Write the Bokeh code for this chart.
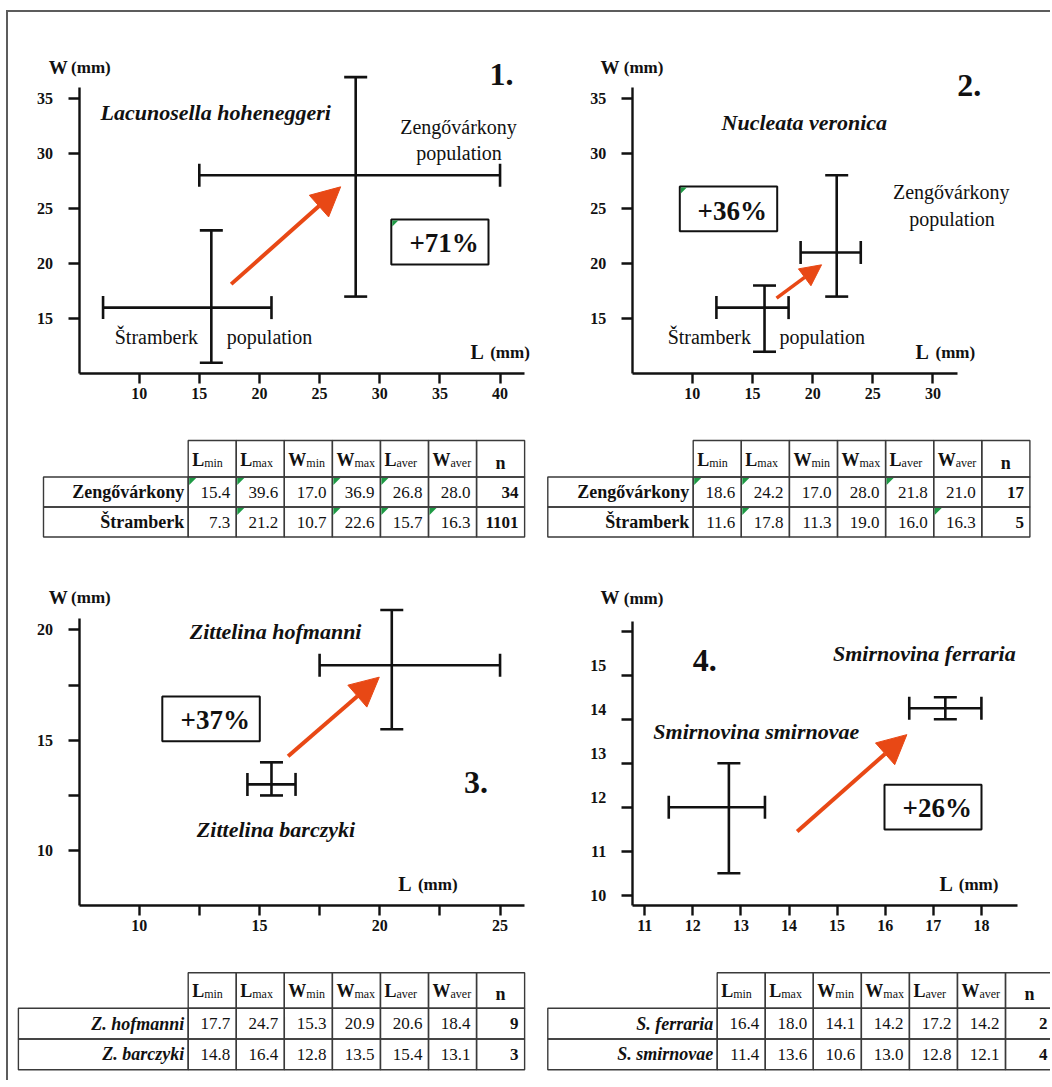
import numpy as np
from bokeh.plotting import figure
from bokeh.models import (Range1d, FixedTicker, Whisker, TeeHead, Arrow, NormalHead,
                          Label, ColumnDataSource, Spacer, LinearAxis,
                          CustomJSTickFormatter)
from bokeh.layouts import row, column
from bokeh.core.properties import value
from bokeh.embed import file_html
from bokeh.resources import INLINE

FONT = "Liberation Serif"
INK = "#111111"
ORANGE = "#E84815"
GREEN = "#1E9A45"
RULE = "#3a3a3a"
FRAME = "#5c5c5c"

# ---------------- data ----------------
panel_num = ["1.", "2.", "3.", "4."]
percent = ["+71%", "+36%", "+37%", "+26%"]
species = ["Lacunosella hoheneggeri", "Nucleata veronica",
           "Zittelina hofmanni", "Zittelina barczyki",
           "Smirnovina ferraria", "Smirnovina smirnovae"]
pop_names = ["Zengővárkony", "Štramberk"]
pop_word = "population"

# crosses as drawn: [upper group, lower group]
p1_L_c, p1_L_lo, p1_L_hi = [28.0, 16.0], [15.0, 7.0], [40.0, 21.0]
p1_W_c, p1_W_lo, p1_W_hi = [28.0, 16.0], [17.0, 11.0], [36.9, 23.0]

p2_L_c, p2_L_lo, p2_L_hi = [22.0, 16.0], [19.0, 12.0], [24.0, 18.0]
p2_W_c, p2_W_lo, p2_W_hi = [21.0, 16.0], [17.0, 12.0], [28.0, 18.0]

p3_L_c, p3_L_lo, p3_L_hi = [20.5, 15.5], [17.5, 14.5], [25.0, 16.5]
p3_W_c, p3_W_lo, p3_W_hi = [18.4, 13.0], [15.5, 12.5], [20.9, 14.0]

p4_L_c, p4_L_lo, p4_L_hi = [17.25, 12.75], [16.5, 11.5], [18.0, 13.5]
p4_W_c, p4_W_lo, p4_W_hi = [14.25, 12.0], [14.0, 10.5], [14.5, 13.0]

arrow_x0 = [17.65, 17.0, 16.19, 14.17]
arrow_y0 = [18.13, 16.86, 14.28, 11.45]
arrow_x1 = [26.75, 20.74, 19.98, 16.45]
arrow_y1 = [26.95, 19.88, 17.86, 13.65]

p1_xticks = [10, 15, 20, 25, 30, 35, 40]
p1_yticks = [15, 20, 25, 30, 35]
p2_xticks = [10, 15, 20, 25, 30]
p2_yticks = [15, 20, 25, 30, 35]
p3_xticks, p3_xminor = [10, 15, 20, 25], [12.5, 17.5, 22.5]
p3_yticks, p3_yminor = [10, 15, 20], [12.5, 17.5]
p4_xticks = [11, 12, 13, 14, 15, 16, 17, 18]
p4_yticks = [10, 11, 12, 13, 14, 15, 16]
# where the y labels of panel 4 actually sit (12..15 are printed a little high)
p4_ylabel_at = [10, 11, 12.23, 13.23, 14.23, 15.23]

p1_xb, p1_yb = (5, 42), (10, 36)
p2_xb, p2_yb = (5, 32), (10, 36)
p3_xb, p3_yb = (7.5, 26), (7.5, 20.5)
p4_xb, p4_yb = (10.74, 18.76), (9.76, 16.23)

col_main = ["L", "L", "W", "W", "L", "W", "n"]
col_sub = ["min", "max", "min", "max", "aver", "aver", ""]

t1_names = ["Zengővárkony", "Štramberk"]
t1_vals = [[15.4, 39.6, 17.0, 36.9, 26.8, 28.0], [7.3, 21.2, 10.7, 22.6, 15.7, 16.3]]
t1_n = [34, 1101]
t1_flags = [[1, 1, 0, 1, 1, 0, 0], [0, 1, 0, 1, 1, 1, 0]]

t2_names = ["Zengővárkony", "Štramberk"]
t2_vals = [[18.6, 24.2, 17.0, 28.0, 21.8, 21.0], [11.6, 17.8, 11.3, 19.0, 16.0, 16.3]]
t2_n = [17, 5]
t2_flags = [[1, 1, 0, 0, 1, 0, 0], [0, 1, 0, 0, 0, 1, 0]]

t3_names = ["Z. hofmanni", "Z. barczyki"]
t3_vals = [[17.7, 24.7, 15.3, 20.9, 20.6, 18.4], [14.8, 16.4, 12.8, 13.5, 15.4, 13.1]]
t3_n = [9, 3]
t3_flags = [[0] * 7, [0] * 7]

t4_names = ["S. ferraria", "S. smirnovae"]
t4_vals = [[16.4, 18.0, 14.1, 14.2, 17.2, 14.2], [11.4, 13.6, 10.6, 13.0, 12.8, 12.1]]
t4_n = [2, 4]
t4_flags = [[0] * 7, [0] * 7]


# ---------------- helpers ----------------
def make_panel(fx, fy, fw, fh, ax_px, ax_py, x0, xppu, y0, yppu):
    """Figure whose frame fills the whole figure; axes pinned at (x0, y0)."""
    X = lambda px: x0 + (px - ax_px) / xppu
    Y = lambda py: y0 + (ax_py - py) / yppu
    p = figure(width=fw, height=fh, title=None,
               x_range=Range1d(X(fx), X(fx + fw)),
               y_range=Range1d(Y(fy + fh), Y(fy)),
               output_backend="svg", toolbar_location=None,
               min_border_left=0, min_border_bottom=0,
               min_border_top=0, min_border_right=0)
    p.outline_line_color = None
    p.grid.visible = False
    p.background_fill_color = "white"
    p.xaxis[0].fixed_location = y0
    p.yaxis[0].fixed_location = x0
    return p, X, Y


def style_axis(ax, b, t, mn, out, standoff):
    ax.bounds = b
    ax.ticker = FixedTicker(ticks=list(t), minor_ticks=list(mn))
    ax.axis_line_width = 2.4
    ax.axis_line_color = INK
    ax.major_tick_line_width = 2.4
    ax.major_tick_line_color = INK
    ax.major_tick_out = out
    ax.major_tick_in = 0
    ax.minor_tick_line_width = 2.4
    ax.minor_tick_line_color = INK
    ax.minor_tick_out = out
    ax.minor_tick_in = 0
    ax.major_label_text_font = FONT
    ax.major_label_text_font_size = "16px"
    ax.major_label_text_font_style = "bold"
    ax.major_label_text_color = INK
    ax.major_label_standoff = standoff


def style_axes(p, xb, yb, xt, yt, xminor=(), yminor=()):
    style_axis(p.xaxis[0], xb, xt, xminor, 10, 4)
    style_axis(p.yaxis[0], yb, yt, yminor, 11, 15)


def add_label(p, x, y, text, size, style="bold", align="center", baseline="middle"):
    p.add_layout(Label(x=x, y=y, text=text, text_font=FONT, text_font_size=size,
                       text_font_style=style, text_color=INK,
                       text_align=align, text_baseline=baseline))


def draw_crosses(p, Lc, Llo, Lhi, Wc, Wlo, Whi, cap=23, lw=2.6):
    src = ColumnDataSource(dict(Lc=Lc, Llo=Llo, Lhi=Lhi, Wc=Wc, Wlo=Wlo, Whi=Whi))
    for dim, base, lo, hi in [("height", "Lc", "Wlo", "Whi"), ("width", "Wc", "Llo", "Lhi")]:
        p.add_layout(Whisker(source=src, base=base, lower=lo, upper=hi, dimension=dim,
                             line_width=lw, line_color=INK,
                             upper_head=TeeHead(size=cap, line_width=lw, line_color=INK),
                             lower_head=TeeHead(size=cap, line_width=lw, line_color=INK)))


def draw_arrow(p, i, head, lw=4):
    p.add_layout(Arrow(x_start=arrow_x0[i], y_start=arrow_y0[i],
                       x_end=arrow_x1[i], y_end=arrow_y1[i],
                       line_color=ORANGE, line_width=lw,
                       end=NormalHead(size=head, fill_color=ORANGE,
                                      line_color=ORANGE, line_width=1)))


def draw_box(p, X, Y, l, r, t, b, cx, cy, text, flag):
    p.quad(left=[X(l)], right=[X(r)], top=[Y(t)], bottom=[Y(b)],
           fill_color="white", line_color=INK, line_width=2)
    if flag:
        p.patch(x=[X(l + 1), X(l + 7), X(l + 1)], y=[Y(t + 1), Y(t + 1), Y(t + 7)],
                fill_color=GREEN, line_color=None)
    add_label(p, X(cx), Y(cy), text, "27px")


def axis_titles(p, X, Y, wx, wmx, wy, lx, lmx, ly):
    add_label(p, X(wx), Y(wy), "W", "19px", align="left")
    add_label(p, X(wmx), Y(wy + 0.5), "(mm)", "17px", align="left")
    add_label(p, X(lx), Y(ly), "L", "20px", align="left")
    add_label(p, X(lmx), Y(ly + 0.5), "(mm)", "17px", align="left")


def make_table(fx, fy, fw, fh, name_left, col0, col_w, top, head_bot, row_h,
               names, vals, nvals, flags, name_style):
    p = figure(width=fw, height=fh, title=None, x_range=Range1d(0, fw),
               y_range=Range1d(fh, 0), output_backend="svg", toolbar_location=None,
               min_border_left=0, min_border_right=0, min_border_top=0,
               min_border_bottom=0)
    p.axis.visible = False
    p.grid.visible = False
    p.outline_line_color = None
    ncol = len(col_main)
    nrow = len(names)
    lefts = col0 - fx + col_w * np.arange(ncol)
    rights = lefts + col_w
    t = top - fy
    hb = head_bot - fy
    nl = name_left - fx
    lw = 1.4
    p.quad(left=lefts, right=rights, top=np.full(ncol, t), bottom=np.full(ncol, hb),
           fill_color=None, line_color=RULE, line_width=lw)
    rt = hb + row_h * np.arange(nrow)
    rb = rt + row_h
    p.quad(left=np.full(nrow, nl), right=np.full(nrow, lefts[0]), top=rt, bottom=rb,
           fill_color=None, line_color=RULE, line_width=lw)
    L = np.tile(lefts, nrow)
    R = np.tile(rights, nrow)
    T = np.repeat(rt, ncol)
    B = np.repeat(rb, ncol)
    p.quad(left=L, right=R, top=T, bottom=B, fill_color=None, line_color=RULE,
           line_width=lw)
    fl = np.array(flags).ravel().astype(bool)
    if fl.any():
        xs = [[l + 1, l + 8, l + 1] for l in L[fl]]
        ys = [[tt + 1, tt + 1, tt + 8] for tt in T[fl]]
        p.patches(xs, ys, fill_color=GREEN, line_color=None)
    # header texts
    lw_em = {"L": 0.667, "W": 1.0}
    msz = 18
    mx = lefts[:6] + 4
    p.text(x=mx, y=np.full(6, hb - 17.5), text=col_main[:6], text_font=value(FONT),
           text_font_size=f"{msz}px", text_font_style="bold", text_color=INK,
           text_align="left", text_baseline="middle")
    sx = mx + np.array([lw_em[c] * msz for c in col_main[:6]])
    p.text(x=sx, y=np.full(6, hb - 14), text=col_sub[:6], text_font=value(FONT),
           text_font_size="12px", text_color=INK,
           text_align="left", text_baseline="middle")
    p.text(x=[(lefts[6] + rights[6]) / 2], y=[hb - 14.5], text=[col_main[6]],
           text_font=value(FONT), text_font_size="18px", text_font_style="bold",
           text_color=INK, text_align="center", text_baseline="middle")
    # body texts
    cy = (rt + rb) / 2
    p.text(x=np.full(nrow, lefts[0] - 4), y=cy, text=names, text_font=value(FONT),
           text_font_size="18px", text_font_style=name_style, text_color=INK,
           text_align="right", text_baseline="middle")
    vx = np.tile(rights[:6] - 6, nrow)
    vy = np.repeat(cy, 6)
    vt = [f"{v:.1f}" for rowv in vals for v in rowv]
    p.text(x=vx, y=vy, text=vt, text_font=value(FONT), text_font_size="17px",
           text_color=INK, text_align="right", text_baseline="middle")
    nx = min(rights[6] - 6, fw - 3)
    p.text(x=np.full(nrow, nx), y=cy, text=[str(n) for n in nvals],
           text_font=value(FONT), text_font_size="17px", text_font_style="bold",
           text_color=INK, text_align="right", text_baseline="middle")
    return p


# ---------------- panel 1 ----------------
p1, X, Y = make_panel(8, 12, 532, 408, 78.5, 373.3, 5, 12.03, 10, 11.03)
style_axes(p1, p1_xb, p1_yb, p1_xticks, p1_yticks)
draw_box(p1, X, Y, 390.8, 488, 219, 264, 443.6, 242.7, percent[0], True)
draw_crosses(p1, p1_L_c, p1_L_lo, p1_L_hi, p1_W_c, p1_W_lo, p1_W_hi)
draw_arrow(p1, 0, 29)
add_label(p1, X(501), Y(74), panel_num[0], "32px")
add_label(p1, X(215.2), Y(111.7), species[0], "22px", "bold italic")
add_label(p1, X(458), Y(126), pop_names[0], "20px", "normal")
add_label(p1, X(458.5), Y(152.7), pop_word, "20px", "normal")
add_label(p1, X(155.9), Y(336.7), pop_names[1], "20px", "normal")
add_label(p1, X(269.1), Y(336.7), pop_word, "20px", "normal")
axis_titles(p1, X, Y, 48.2, 70.6, 66.5, 470, 489.7, 351.7)

# ---------------- panel 2 ----------------
p2, X, Y = make_panel(540, 12, 510, 408, 631.7, 373.3, 5, 12.03, 10, 11.03)
style_axes(p2, p2_xb, p2_yb, p2_xticks, p2_yticks)
draw_box(p2, X, Y, 679.3, 776.7, 186, 230.7, 731.7, 210, percent[1], True)
draw_crosses(p2, p2_L_c, p2_L_lo, p2_L_hi, p2_W_c, p2_W_lo, p2_W_hi)
draw_arrow(p2, 1, 21, 3.6)
add_label(p2, X(968.7), Y(85), panel_num[1], "32px")
add_label(p2, X(803.8), Y(121.7), species[1], "22px", "bold italic")
add_label(p2, X(950.8), Y(191.7), pop_names[0], "20px", "normal")
add_label(p2, X(951.5), Y(218.3), pop_word, "20px", "normal")
add_label(p2, X(708.8), Y(336.7), pop_names[1], "20px", "normal")
add_label(p2, X(821.8), Y(336.7), pop_word, "20px", "normal")
axis_titles(p2, X, Y, 600, 623.3, 66.5, 915, 935, 351.7)

# ---------------- panel 3 ----------------
p3, X, Y = make_panel(8, 560, 532, 390, 78.5, 905.3, 7.5, 24.06, 7.5, 22.07)
style_axes(p3, p3_xb, p3_yb, p3_xticks, p3_yticks, p3_xminor, p3_yminor)
draw_box(p3, X, Y, 161.8, 259.3, 696, 740.7, 214.7, 719, percent[2], False)
draw_crosses(p3, p3_L_c, p3_L_lo, p3_L_hi, p3_W_c, p3_W_lo, p3_W_hi)
draw_arrow(p3, 2, 29)
add_label(p3, X(475.6), Y(781.7), panel_num[2], "32px")
add_label(p3, X(275.1), Y(631), species[2], "22px", "bold italic")
add_label(p3, X(275.5), Y(829), species[3], "22px", "bold italic")
axis_titles(p3, X, Y, 48.2, 70.6, 596.7, 397.7, 417.4, 883.3)

# ---------------- panel 4 ----------------
p4, X, Y = make_panel(540, 560, 510, 390, 631.7, 905.3, 10.74, 48.1, 9.76, 44.0)
style_axes(p4, p4_xb, p4_yb, p4_xticks, p4_yticks)
p4.yaxis[0].major_label_text_alpha = 0
lab_axis = LinearAxis(fixed_location=p4_xb[0], bounds=p4_yb,
                      ticker=FixedTicker(ticks=p4_ylabel_at),
                      formatter=CustomJSTickFormatter(code="return Math.round(tick).toString();"),
                      axis_line_color=None, major_tick_line_color=None,
                      minor_tick_line_color=None, major_tick_out=11, major_tick_in=0,
                      major_label_standoff=15, major_label_text_font=FONT,
                      major_label_text_font_size="16px", major_label_text_font_style="bold",
                      major_label_text_color=INK)
p4.add_layout(lab_axis, "left")
draw_box(p4, X, Y, 884, 981, 784.3, 829, 936.7, 807.3, percent[3], False)
draw_crosses(p4, p4_L_c, p4_L_lo, p4_L_hi, p4_W_c, p4_W_lo, p4_W_hi)
draw_arrow(p4, 3, 29)
add_label(p4, X(704.3), Y(660), panel_num[3], "32px")
add_label(p4, X(923.8), Y(653.3), species[4], "22px", "bold italic")
add_label(p4, X(755.8), Y(730.7), species[5], "22px", "bold italic")
axis_titles(p4, X, Y, 600, 623.3, 597.3, 939, 958.3, 883.3)

# ---------------- tables ----------------
t1 = make_table(8, 420, 532, 140, 43, 187.7, 48.06, 440, 476.5, 30,
                t1_names, t1_vals, t1_n, t1_flags, "bold")
t2 = make_table(540, 420, 510, 140, 547.3, 692.7, 48.1, 440, 476.5, 30,
                t2_names, t2_vals, t2_n, t2_flags, "bold")
t3 = make_table(8, 950, 532, 130, 17.9, 187.7, 48.06, 972.3, 1007.7, 30.8,
                t3_names, t3_vals, t3_n, t3_flags, "bold italic")
t4 = make_table(540, 950, 510, 130, 547.3, 716.7, 48.05, 972.3, 1007.7, 30.8,
                t4_names, t4_vals, t4_n, t4_flags, "bold italic")

grid = column(row(p1, p2), row(t1, t2), row(p3, p4), row(t3, t4))
top_gap = Spacer(width=1050, height=10)
left_gap = Spacer(width=6, height=1070)
top_bar = Spacer(width=1044, height=2, styles={"background-color": FRAME})
left_bar = Spacer(width=2, height=1068, styles={"background-color": FRAME})
layout = column(top_gap, row(left_gap, column(top_bar, row(left_bar, grid))))

open("out.html", "w").write(file_html(layout, INLINE))
